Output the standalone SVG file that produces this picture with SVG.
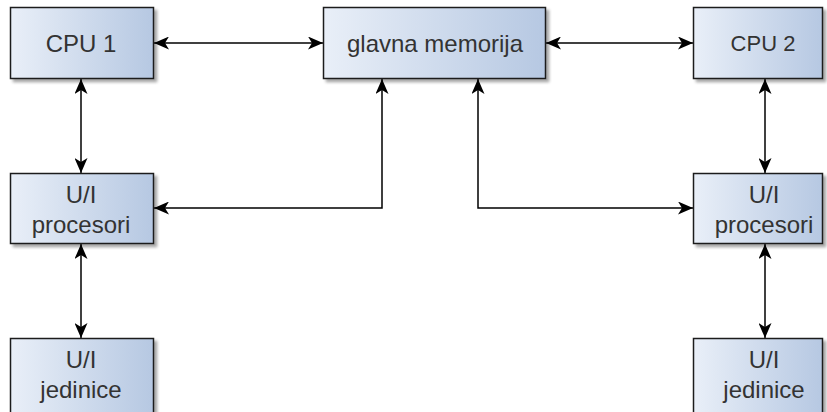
<svg xmlns="http://www.w3.org/2000/svg" width="827" height="412" viewBox="0 0 827 412">
<defs>
<linearGradient id="g" x1="0" y1="0" x2="1" y2="0">
<stop offset="0" stop-color="#e9eff8"/>
<stop offset="1" stop-color="#b6c8e2"/>
</linearGradient>
<filter id="sh" x="-10%" y="-10%" width="130%" height="140%">
<feGaussianBlur in="SourceAlpha" stdDeviation="1.5"/>
<feOffset dx="3" dy="3" result="b"/>
<feComponentTransfer><feFuncA type="linear" slope="0.35"/></feComponentTransfer>
<feMerge><feMergeNode/><feMergeNode in="SourceGraphic"/></feMerge>
</filter>
<marker id="a" viewBox="0 0 15 13" refX="15" refY="6.5" markerWidth="15" markerHeight="13" markerUnits="userSpaceOnUse" orient="auto-start-reverse">
<path d="M0,0 L15,6.5 L0,13 L4,6.5 Z" fill="#000"/>
</marker>
</defs>
<style>
.box{fill:url(#g);stroke:#1a1a1a;stroke-width:1.5;filter:url(#sh)}
.t{font-family:"Liberation Sans",Arial,sans-serif;font-size:24px;fill:#333;text-anchor:middle}
.c{fill:none;stroke:#000;stroke-width:1.5;marker-start:url(#a);marker-end:url(#a)}
</style>
<g id="connectors">
<path class="c" d="M154,43 H323"/>
<path class="c" d="M546,43 H693"/>
<path class="c" d="M81,79 V173"/>
<path class="c" d="M154,208 H382 V79"/>
<path class="c" d="M478,79 V208 H693"/>
<path class="c" d="M765,79 V173"/>
<path class="c" d="M81,244 V338"/>
<path class="c" d="M765,244 V338"/>
</g>
<g id="cpu1">
<rect class="box" x="10.5" y="7.5" width="143" height="71"/>
<text class="t" x="81" y="52">CPU 1</text>
</g>
<g id="memorija">
<rect class="box" x="323.5" y="7.5" width="222" height="71"/>
<text class="t" x="435" y="52">glavna memorija</text>
</g>
<g id="cpu2">
<rect class="box" x="693.5" y="7.5" width="129" height="71"/>
<text class="t" x="763" y="51" style="font-size:22px">CPU 2</text>
</g>
<g id="uip1">
<rect class="box" x="10.5" y="173.5" width="143" height="70"/>
<text class="t" x="81" y="203">U/I</text>
<text class="t" x="81" y="233">procesori</text>
</g>
<g id="uip2">
<rect class="box" x="693.5" y="173.5" width="129" height="70"/>
<text class="t" x="764" y="203">U/I</text>
<text class="t" x="764" y="233">procesori</text>
</g>
<g id="uij1">
<rect class="box" x="10.5" y="338.5" width="143" height="80"/>
<text class="t" x="81" y="368">U/I</text>
<text class="t" x="81" y="398">jedinice</text>
</g>
<g id="uij2">
<rect class="box" x="693.5" y="338.5" width="129" height="80"/>
<text class="t" x="764" y="368">U/I</text>
<text class="t" x="764" y="398">jedinice</text>
</g>
</svg>
